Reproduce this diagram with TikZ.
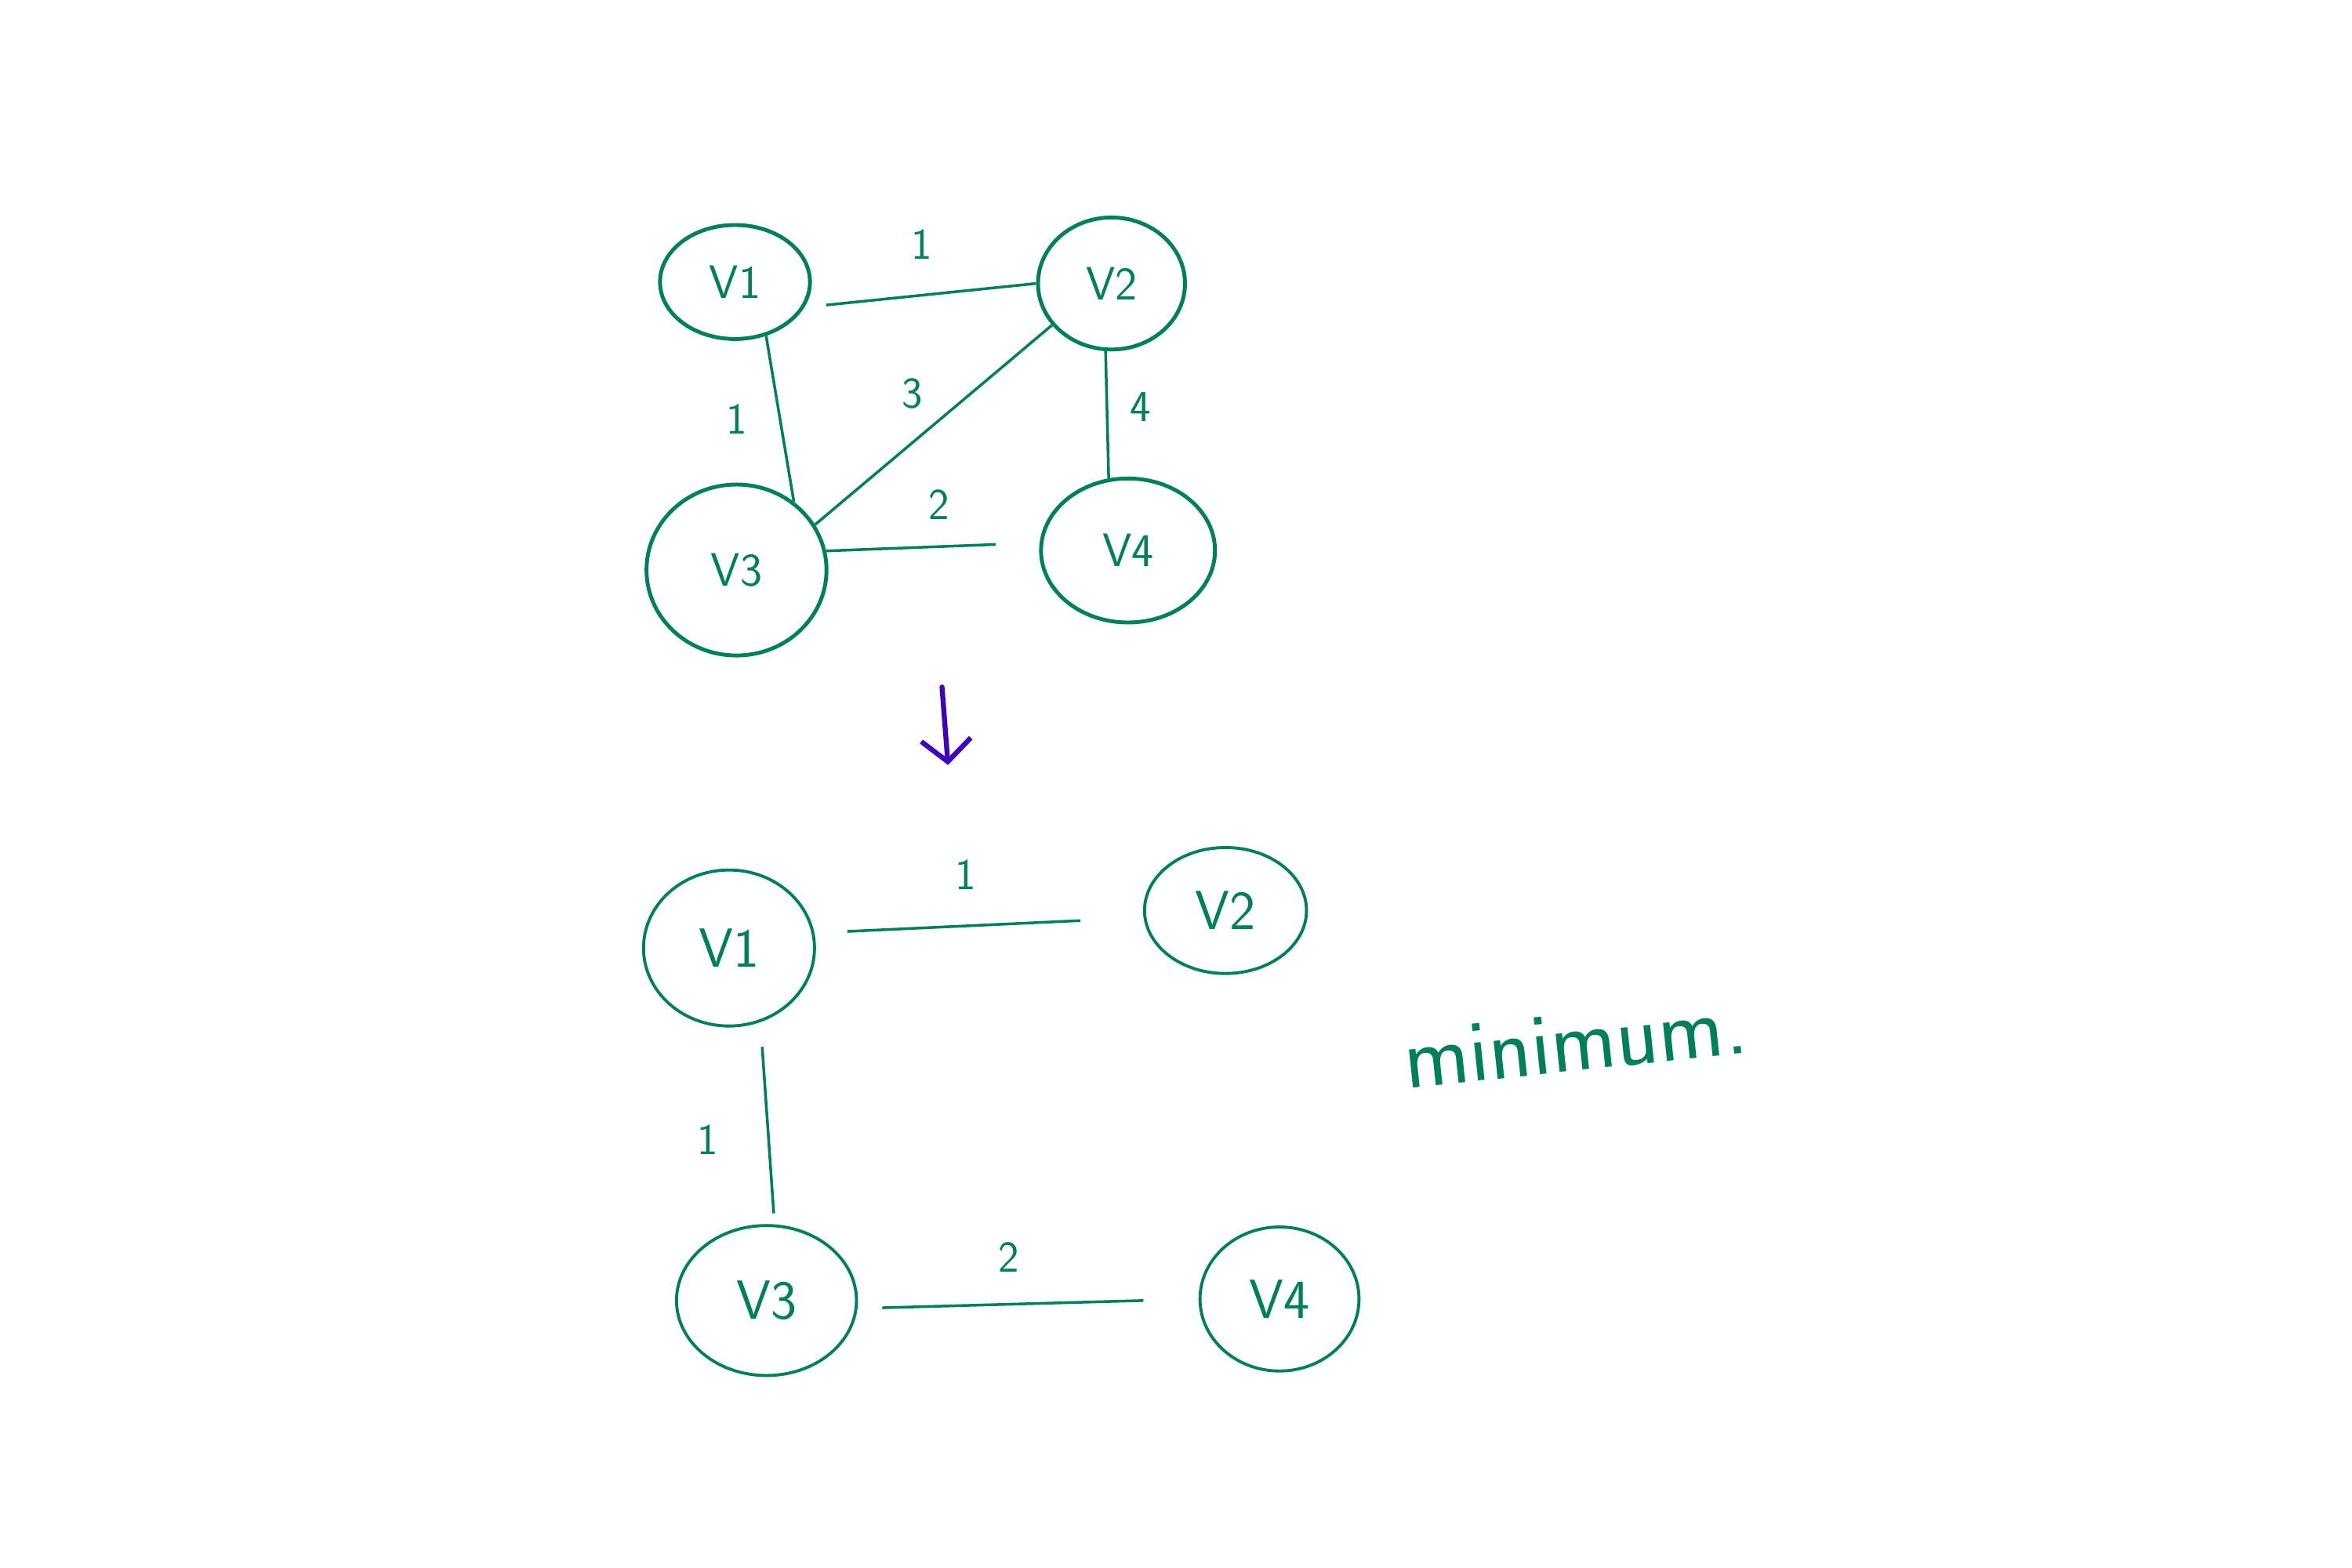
\documentclass[tikz,border=0pt]{standalone}
\usetikzlibrary{shapes.geometric,arrows.meta}
\definecolor{ink}{HTML}{00805A}
\definecolor{pen}{HTML}{4000C0}

\begin{document}
\begin{tikzpicture}[x=0.019133cm, y=-0.019133cm,
	vertex/.style={draw=ink, ellipse, line width=1.4pt, inner sep=0pt, text=ink, font=\sffamily\fontsize{17}{20}\selectfont},
	bigvertex/.style={vertex, line width=1.1pt, font=\sffamily\fontsize{20}{24}\selectfont},
	weight/.style={text=ink, font=\sffamily\fontsize{16}{19}\selectfont},
	every edge/.style={draw=ink, line width=1pt}]
	\useasboundingbox (0,0) rectangle (1568,1045);

	% full graph
	\node[vertex, minimum width=1.913cm, minimum height=1.454cm] (a1) at (490,188) {V1};
	\node[vertex, minimum width=1.875cm, minimum height=1.684cm] (a2) at (741,189) {V2};
	\node[vertex, minimum width=2.296cm, minimum height=2.181cm] (a3) at (491,380) {V3};
	\node[vertex, minimum width=2.219cm, minimum height=1.837cm] (a4) at (752,367) {V4};

	\path
		(a1.-20) edge[shorten <=8pt] node[weight, shift={(1,-34)}] {1} (a2.west)
		(a1.-60) edge node[weight, shift={(-29,0)}] {1} (a3.50)
		(a2.215) edge node[weight, shift={(-14,-21)}] {3} (a3.30)
		(a2.-95) edge node[weight, shift={(22,-5)}] {4} (a4.105)
		(a3.12) edge[shorten >=16pt] node[weight, shift={(4,-28)}] {2} (a4.175);

	% down arrow
	\coordinate (arrowtop) at (628,458);
	\coordinate (arrowtip) at (632,510);
	\draw[pen, line width=1.8pt, line cap=round, -{Straight Barb[length=8pt, width=18pt]}] (arrowtop) -- (arrowtip);

	% spanning tree
	\node[bigvertex, minimum width=2.181cm, minimum height=1.990cm] (b1) at (486,632) {V1};
	\node[bigvertex, minimum width=2.066cm, minimum height=1.607cm] (b2) at (817,607) {V2};
	\node[bigvertex, minimum width=2.296cm, minimum height=1.913cm] (b3) at (511,867) {V3};
	\node[bigvertex, minimum width=2.028cm, minimum height=1.837cm] (b4) at (853,866) {V4};

	\path
		(b1.10) edge[shorten <=12pt, shorten >=23pt] node[weight, shift={(-9,-34)}] {1} (b2.185)
		(b1.-67) edge[shorten <=9pt, shorten >=4pt] node[weight, shift={(-40,11)}] {1} (b3.84)
		(b3.-5) edge[shorten <=9pt, shorten >=20pt] node[weight, shift={(-13,-31)}] {2} (b4.west);

	\node[text=ink, rotate=6, font=\sffamily\fontsize{32}{36}\selectfont] (note) at (1050,695) {minimum.};
\end{tikzpicture}
\end{document}
